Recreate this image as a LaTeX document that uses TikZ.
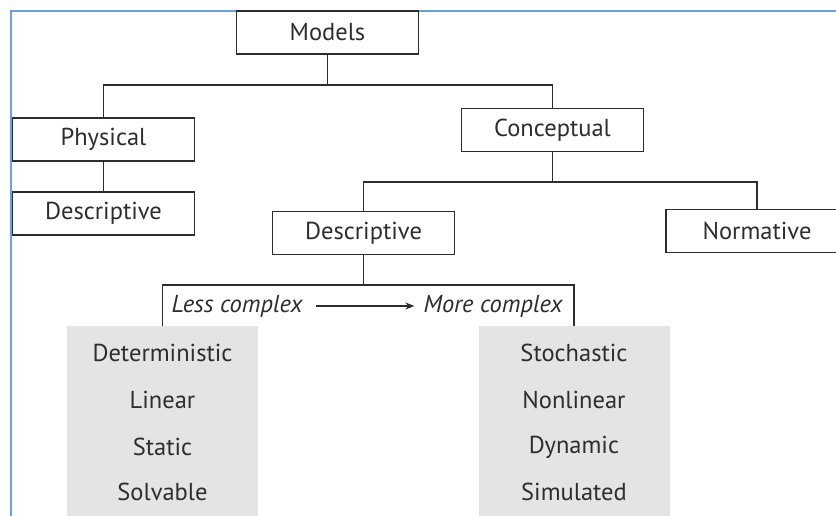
\documentclass[tikz,border=0pt]{standalone}
\usepackage{fontspec}
\setmainfont{PT Sans}
\usetikzlibrary{arrows.meta, positioning}
\definecolor{frameblue}{RGB}{104,162,228}
\definecolor{panelgray}{RGB}{228,228,228}
\definecolor{inkgray}{RGB}{45,45,45}

\begin{document}
\begin{tikzpicture}[x=1pt,y=-1pt,
    box/.style={draw=inkgray, line width=1.5pt, fill=white, text=inkgray,
      minimum width=182pt, minimum height=43pt, inner sep=0pt,
      font=\fontsize{24.5}{26}\selectfont},
    panel/.style={fill=panelgray, minimum width=191pt, minimum height=200pt,
      inner sep=0pt, anchor=north},
    item/.style={text=inkgray, font=\fontsize{24.5}{26}\selectfont},
    tag/.style={text=inkgray, inner sep=0pt, font=\fontsize{24.5}{26}\selectfont\itshape},
    link/.style={draw=inkgray, line width=1.5pt}]
  \clip (0,0) rectangle (836,516);
  \fill[white] (0,0) rectangle (836,516);
  \draw[frameblue, line width=2.2pt] (11,520) -- (11,11) -- (840,11);

  % model tree
  \node[box] (models) at (327.5,32.5) {Models};
  \node[box] (physical) at (103.5,139.5) {Physical};
  \node[box] (physdesc) at (103.5,213.5) {Descriptive};
  \node[box] (conceptual) at (552.5,130) {Conceptual};
  \node[box] (concdesc) at (363.5,233) {Descriptive};
  \node[box] (normative) at (757,231) {Normative};

  \coordinate (split1) at (327.5,85);
  \coordinate (split2) at (552.5,182);
  \coordinate (split3) at (363.5,285);

  \draw[link] (models.south) -- (split1);
  \draw[link] (physical.north) |- (split1) -| (conceptual.north);
  \draw[link] (physical.south) -- (physdesc.north);
  \draw[link] (conceptual.south) -- (split2);
  \draw[link] (concdesc.north) |- (split2) -| (normative.north);
  \draw[link] (concdesc.south) -- (split3);

  % complexity panels
  \node[panel] (lowpanel) at (162.5,326) {};
  \node[panel] (highpanel) at (574,326) {};
  \draw[link] (lowpanel.north) |- (split3) -| (highpanel.north);

  \node[tag] (less) at (237,306) {Less complex};
  \node[tag] (more) at (493,306) {More complex};
  \draw[link, line width=1.2pt, -{Stealth[length=9pt,width=7pt]},
    shorten <=13pt, shorten >=9pt] (less.east) -- (more.west);

  \foreach \word/\yy in {Deterministic/353, Linear/400, Static/447, Solvable/492}
    \node[item] (low-\word) at (lowpanel.north |- 0,\yy) {\word};
  \foreach \word/\yy in {Stochastic/353, Nonlinear/400, Dynamic/447, Simulated/492}
    \node[item] (high-\word) at (highpanel.north |- 0,\yy) {\word};
\end{tikzpicture}
\end{document}
